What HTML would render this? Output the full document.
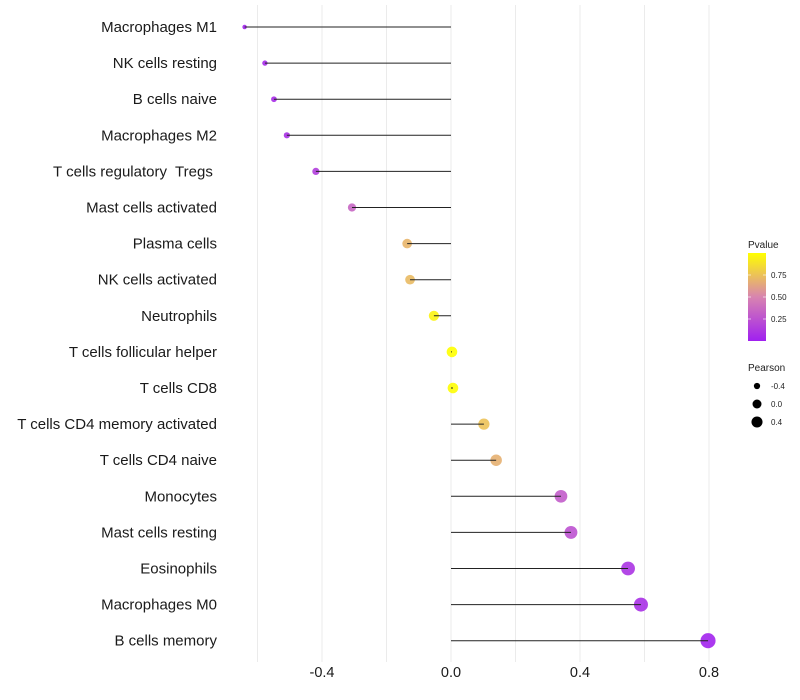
<!DOCTYPE html>
<html><head><meta charset="utf-8"><style>
body{margin:0;background:#fff;}
svg{display:block;font-family:"Liberation Sans",sans-serif;}
</style></head><body>
<svg id="chart" width="800" height="700">
<g id="grid"></g>
<g id="marks"></g>
<g id="ylab"></g>
<g id="xlab"></g>
<g id="legend">
<defs><linearGradient id="pg" x1="0" y1="1" x2="0" y2="0">
<stop offset="0" stop-color="#A020F0"/><stop offset="0.5" stop-color="#D884B0"/><stop offset="1" stop-color="#FFFF00"/></linearGradient></defs>
<text x="748" y="248" font-size="10" fill="#222">Pvalue</text>
<rect x="748" y="253" width="18" height="88" fill="url(#pg)"/>
<g id="cbticks"></g>
<text x="748" y="371" font-size="10" fill="#222">Pearson</text>
<g id="sizeleg"></g>
</g>
</svg>
<script>
const categories=["Macrophages M1","NK cells resting","B cells naive","Macrophages M2","T cells regulatory  Tregs ","Mast cells activated","Plasma cells","NK cells activated","Neutrophils","T cells follicular helper","T cells CD8","T cells CD4 memory activated","T cells CD4 naive","Monocytes","Mast cells resting","Eosinophils","Macrophages M0","B cells memory"];
const pearson=[-0.64,-0.577,-0.549,-0.509,-0.419,-0.307,-0.136,-0.127,-0.053,0.003,0.006,0.102,0.14,0.341,0.372,0.549,0.589,0.797];
const pvalues=[0.02,0.05,0.06,0.08,0.15,0.35,0.7,0.72,0.95,1.0,0.99,0.75,0.68,0.3,0.25,0.1,0.08,0.02];
const xTicks=[-0.4,0.0,0.4,0.8];
const xTickLabels=["-0.4","0.0","0.4","0.8"];
const pTicks=[0.25,0.5,0.75];
const pTickLabels=["0.25","0.50","0.75"];
const sizeVals=[-0.4,0.0,0.4];
const sizeLabels=["-0.4","0.0","0.4"];

const NS="http://www.w3.org/2000/svg";
const x=v=>451+v*322.5;
const y=i=>27+i*36.1;
const r=v=>Math.sqrt(Math.max(1,28+36*v));
const pY=p=>341-p*88;
function lerp(a,b,t){return a.map((c,k)=>Math.round(c+(b[k]-c)*t));}
function col(p){const s=[[160,32,240],[216,132,176],[255,255,0]];
 const c=p<0.5?lerp(s[0],s[1],p/0.5):lerp(s[1],s[2],(p-0.5)/0.5);return `rgb(${c})`;}
function mk(t,a,parent){const e=document.createElementNS(NS,t);for(const k in a)e.setAttribute(k,a[k]);parent.appendChild(e);return e;}
const grid=document.getElementById('grid'),marks=document.getElementById('marks'),ylab=document.getElementById('ylab'),xlab=document.getElementById('xlab');
for(let v=-0.6;v<=0.81;v+=0.2){const g=mk('line',{x1:x(v),x2:x(v),y1:5,y2:662,stroke:'#ebebeb','stroke-width':1},grid);
 
 }
categories.forEach((c,i)=>{
 const t=mk('text',{x:217,y:y(i)+5,'font-size':15,'text-anchor':'end',fill:'#1a1a1a','xml:space':'preserve',style:'white-space:pre'},ylab);t.textContent=c;
 
 
 const d=mk('circle',{cx:x(pearson[i]),cy:y(i),r:r(pearson[i]),fill:col(pvalues[i]),'fill-opacity':0.9},marks);
 
 
 const l=mk('line',{x1:x(0),x2:x(pearson[i]),y1:y(i),y2:y(i),stroke:'#222','stroke-width':1},marks);
 
 
});
xTicks.forEach((v,i)=>{const t=mk('text',{x:x(v),y:677,'font-size':14.5,'text-anchor':'middle',fill:'#1a1a1a'},xlab);t.textContent=xTickLabels[i];
 
 });
const cb=document.getElementById('cbticks');
pTicks.forEach((p,i)=>{mk('line',{x1:748,x2:751,y1:pY(p),y2:pY(p),stroke:'#fff','stroke-opacity':0.6},cb);mk('line',{x1:763,x2:766,y1:pY(p),y2:pY(p),stroke:'#fff','stroke-opacity':0.6},cb);
 const t=mk('text',{x:771,y:pY(p)+3,'font-size':8,fill:'#222'},cb);t.textContent=pTickLabels[i];
 
 });
const sl=document.getElementById('sizeleg');
sizeVals.forEach((v,i)=>{const cy=386+i*18;
 const c=mk('circle',{cx:757,cy:cy,r:r(v)*0.85,fill:'#000'},sl);
 
 
 const t=mk('text',{x:771,y:cy+3,'font-size':8,fill:'#222'},sl);t.textContent=sizeLabels[i];
 
 });
</script>
</body></html>
